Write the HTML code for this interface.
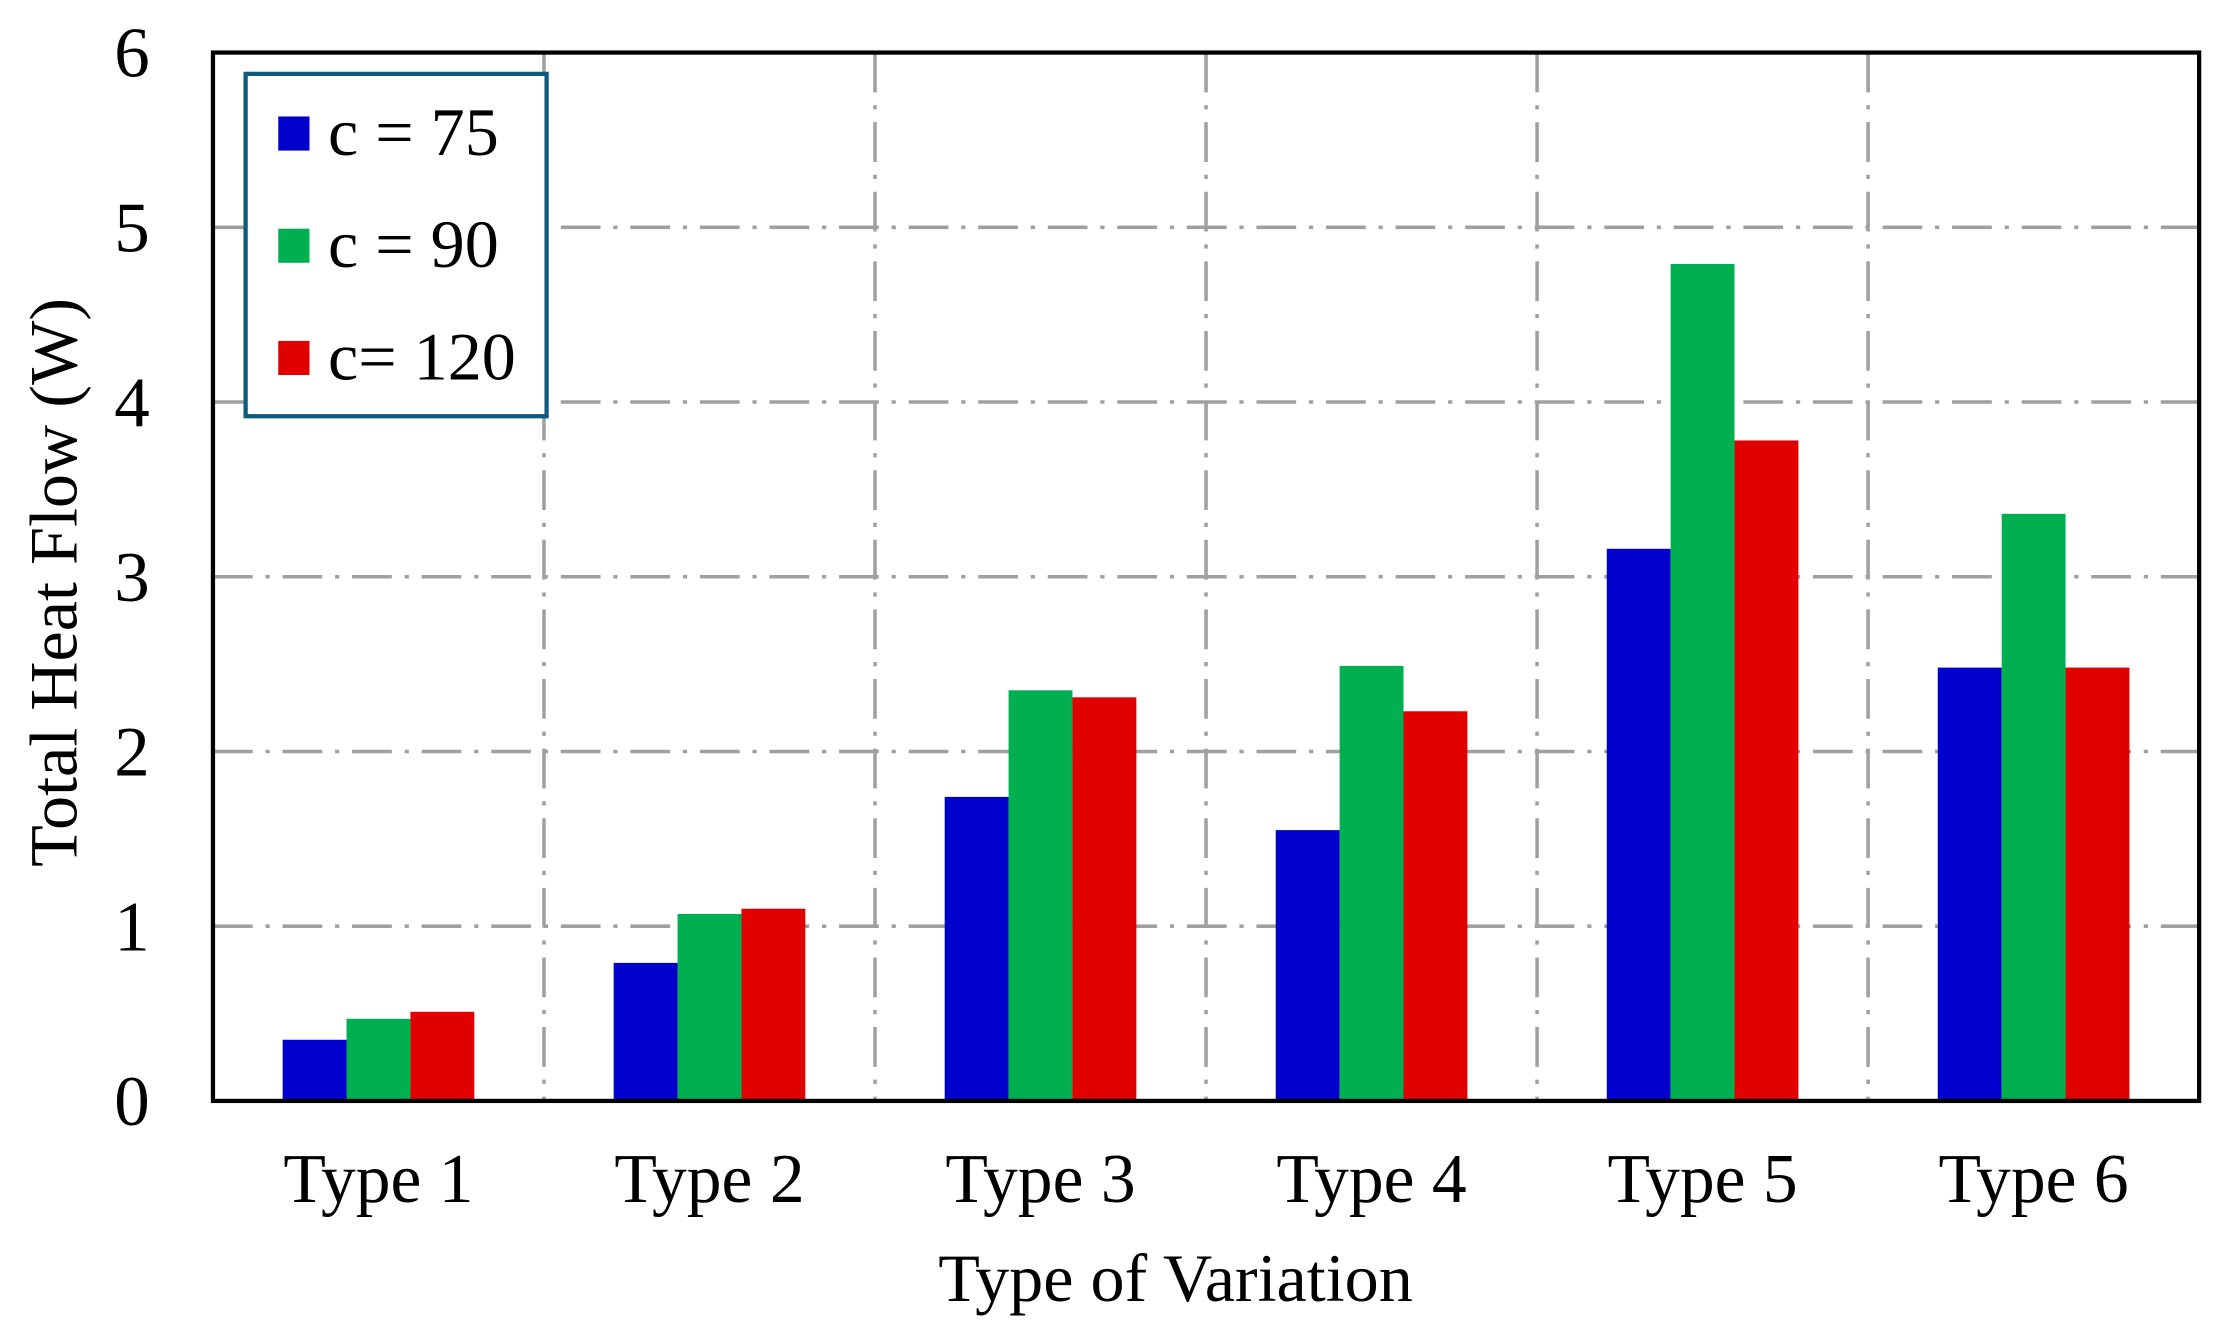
<!DOCTYPE html>
<html><head><meta charset="utf-8"><style>
html,body{margin:0;padding:0;background:#fff;}
svg{display:block;}
text{font-family:"Liberation Serif",serif;fill:#000;}
</style></head><body>
<svg id="chart" width="2219" height="1341" viewBox="0 0 1563 944" preserveAspectRatio="none" xmlns="http://www.w3.org/2000/svg">
<rect x="0" y="0" width="1563" height="944" fill="#fff"/>
<g id="grid"></g>
<g id="bars"></g>
<rect x="150" y="37" width="1399" height="738" fill="none" stroke="#000" stroke-width="3"/>
<g id="yticks"></g>
<g id="xticks"></g>
<text x="828" y="916" font-size="48" text-anchor="middle">Type of Variation</text>
<text transform="translate(54,410) rotate(-90)" font-size="48" text-anchor="middle">Total Heat Flow (W)</text>
<g>
<rect x="173" y="52" width="212" height="241" fill="#fff" stroke="#0e5a7e" stroke-width="3"/>
<g id="legend-entries"></g>
</g>
</svg>
<script>
const categories = ["Type 1","Type 2","Type 3","Type 4","Type 5","Type 6"];
const seriesNames = ["c = 75","c = 90","c= 120"];
const c75 = [0.35,0.79,1.74,1.55,3.16,2.48];
const c90 = [0.47,1.07,2.35,2.49,4.79,3.36];
const c120 = [0.51,1.10,2.31,2.23,3.78,2.48];
const yTicks = [0,1,2,3,4,5,6];
const colors = ["#0000cc","#00b050","#e00000"];

const NS="http://www.w3.org/2000/svg";
const L=150,R=1549,T=37,B=775,yMax=6;
const y=v=>B-(v/yMax)*(B-T);
const bandW=(R-L)/categories.length;
const xc=i=>L+bandW*(i+0.5);
const barW=45;
function mk(tag,attrs,parent){const e=document.createElementNS(NS,tag);for(const k in attrs)e.setAttribute(k,attrs[k]);parent.appendChild(e);return e;}

const grid=document.getElementById('grid');
yTicks.forEach(t=>{ if(t>0&&t<yMax){
 const l=mk('line',{x1:L,x2:R,y1:y(t),y2:y(t),stroke:'#a0a0a0','stroke-width':2.5,'stroke-dasharray':'28 9 3 9'},grid);
 
 
}});
for(let i=1;i<categories.length;i++){
 const gx=L+bandW*i;
 const l=mk('line',{x1:gx,x2:gx,y1:T,y2:B,stroke:'#a0a0a0','stroke-width':2.5,'stroke-dasharray':'28 9 3 9'},grid);
 
 
}

const bars=document.getElementById('bars');
const series=[c75,c90,c120];
series.forEach((s,si)=>{
 s.forEach((v,i)=>{
  const x=xc(i)+(si-1.5)*barW;
  const r=mk('rect',{x:x,y:y(v),width:barW,height:B-y(v),fill:colors[si]},bars);
  
  
 });
});

const yt=document.getElementById('yticks');
yTicks.forEach(t=>{
 const e=mk('text',{x:93,y:y(t)+17,'font-size':50,'text-anchor':'middle'},yt);
 e.textContent=t;
 
 
});
const xt=document.getElementById('xticks');
categories.forEach((c,i)=>{
 const e=mk('text',{x:xc(i),y:846,'font-size':49,'text-anchor':'middle'},xt);
 e.textContent=c;
 
 
});

const le=document.getElementById('legend-entries');
seriesNames.forEach((n,i)=>{
 const cy=94+i*79;
 const s=mk('rect',{x:196,y:cy-12,width:22,height:24,fill:colors[i]},le);
 
 
 const t=mk('text',{x:231,y:cy+15,'font-size':48},le);
 t.textContent=n;
 
 
});
</script>
</body></html>
